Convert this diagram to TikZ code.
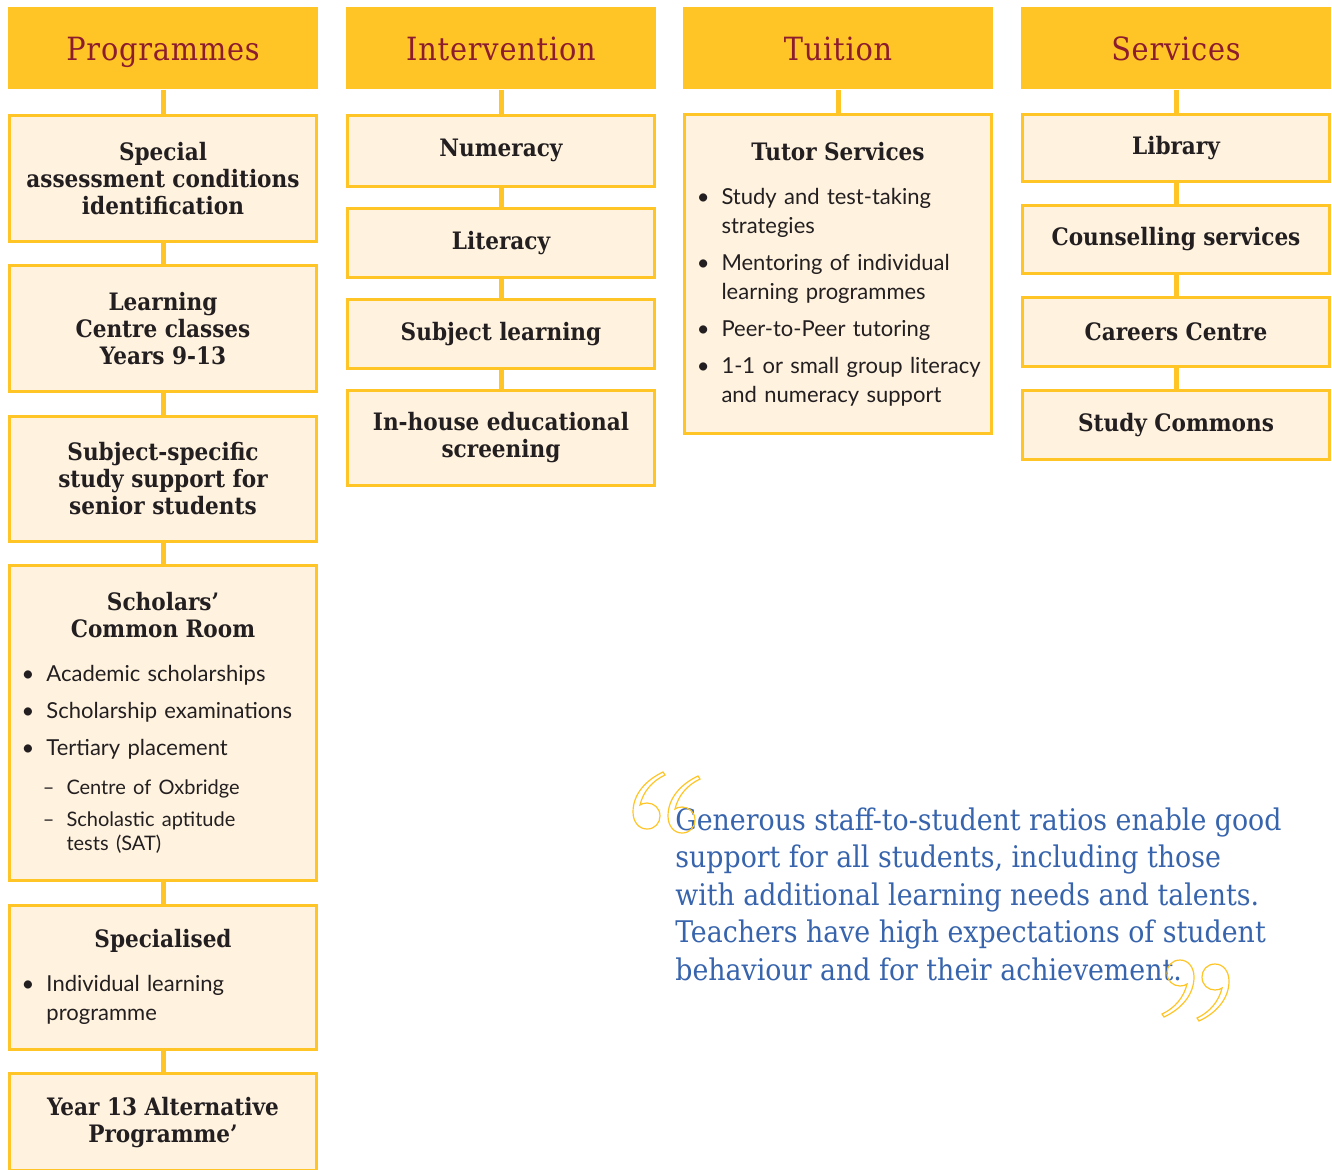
\documentclass[tikz,border=0pt]{standalone}
\usepackage{fontspec}
\setmainfont{Lato}
\newfontfamily\slab{DejaVu Serif Condensed}
\usepackage{enumitem}
\usetikzlibrary{positioning}
\definecolor{gold}{HTML}{FFC425}
\definecolor{cream}{HTML}{FFF3E0}
\definecolor{maroon}{HTML}{8C1D2F}
\definecolor{ink}{HTML}{231F20}
\definecolor{bodyink}{HTML}{353535}
\definecolor{quoteblue}{HTML}{3764AC}
\newcommand{\bodytext}{\fontsize{11}{14.5}\selectfont\color{bodyink}}
\newcommand{\cardtitle}[1]{{\centering\slab\bfseries\fontsize{12}{13.5}\selectfont\color{ink}#1\par}}
\newlist{pointlist}{itemize}{2}
\setlist[pointlist]{label=\textbullet, leftmargin=11.75pt, labelsep=6pt, itemsep=4pt, parsep=0pt, topsep=0pt, partopsep=0pt}
\newlist{dashlist}{itemize}{2}
\setlist[dashlist]{label=–, leftmargin=21.75pt, labelsep=6pt, itemsep=4pt, parsep=0pt, topsep=0pt, partopsep=0pt, before=\fontsize{10}{12}\selectfont}

\begin{document}
\begin{tikzpicture}[x=0.5pt, y=-0.5pt,
  head/.style={rectangle, fill=gold, anchor=north, minimum width=155pt, minimum height=41pt, inner sep=0pt, text height=14pt, text depth=2pt, text=maroon, font=\slab\fontsize{16}{18}\selectfont\addfontfeature{LetterSpace=2.5}},
  card/.style={rectangle, draw=gold, line width=1.5pt, fill=cream, minimum width=153.5pt, inner xsep=8.5pt, inner ysep=0pt, text=ink, align=center, font=\slab\bfseries\fontsize{12}{13.5}\selectfont},
  listcard/.style={card, inner xsep=6.75pt, text width=140pt, align=left, font=\bodytext},
  link/.style={gold, line width=2.5pt},
  quote/.style={inner sep=0pt, anchor=north west, align=left, text=quoteblue, font=\slab\fontsize{14.9}{18.75}\selectfont},
  quotemark/.style={draw=gold, line width=0.6pt, fill=none}
]
  \useasboundingbox (0,0) rectangle (1332,1169);
  \clip (0,0) rectangle (1332,1169);

  % Column heads
  \node[head] (hProg) at (163,7) {Programmes};
  \node[head] (hInt) at (501,7) {Intervention};
  \node[head] (hTut) at (838,7) {Tuition};
  \node[head] (hServ) at (1176,7) {Services};

  % Programmes
  \node[card, minimum height=63pt, below=12pt of hProg] (p1) {Special\\assessment conditions\\identification};
  \node[card, minimum height=63pt, below=10.75pt of p1] (p2) {Learning\\Centre classes\\Years 9-13};
  \node[card, minimum height=62.5pt, below=10.75pt of p2] (p3) {Subject-specific\\study support for\\senior students};
  \node[listcard, minimum height=157.5pt, below=10.75pt of p3] (p4) {%
    \cardtitle{Scholars’\\Common Room}\vspace{7.5pt}
    \begin{pointlist}
      \item Academic scholarships
      \item Scholarship examinations
      \item Tertiary placement
    \end{pointlist}\vspace{7.5pt}
    \begin{dashlist}
      \item Centre of Oxbridge
      \item Scholastic aptitude\newline tests (SAT)
    \end{dashlist}};
  \node[listcard, minimum height=72pt, below=10.75pt of p4] (p5) {%
    \cardtitle{Specialised}\vspace{7.5pt}
    \begin{pointlist}
      \item Individual learning\newline programme
    \end{pointlist}};
  \node[card, minimum height=48.5pt, below=10.75pt of p5] (p6) {Year 13 Alternative\\Programme’};

  % Intervention
  \node[card, minimum height=35.5pt, below=12pt of hInt] (i1) {Numeracy};
  \node[card, minimum height=34.5pt, below=9.5pt of i1] (i2) {Literacy};
  \node[card, minimum height=34.5pt, below=9.5pt of i2] (i3) {Subject learning};
  \node[card, minimum height=47.5pt, below=9.5pt of i3] (i4) {In-house educational\\screening};

  % Tuition
  \node[listcard, minimum height=159.5pt, below=11.5pt of hTut] (t1) {%
    \cardtitle{Tutor Services}\vspace{7.5pt}
    \begin{pointlist}
      \item Study and test-taking\newline strategies
      \item Mentoring of individual\newline learning programmes
      \item Peer-to-Peer tutoring
      \item \makebox[\linewidth][l]{1-1 or small group literacy}\newline and numeracy support
    \end{pointlist}};

  % Services
  \node[card, minimum height=33.5pt, below=11.5pt of hServ] (s1) {Library};
  \node[card, minimum height=34pt, below=10.5pt of s1] (s2) {Counselling services};
  \node[card, minimum height=34.5pt, below=10.5pt of s2] (s3) {Careers Centre};
  \node[card, minimum height=34.5pt, below=10.5pt of s3] (s4) {Study Commons};

  % Connectors
  \foreach \a/\b in {hProg/p1, p1/p2, p2/p3, p3/p4, p4/p5, p5/p6,
                     hInt/i1, i1/i2, i2/i3, i3/i4,
                     hTut/t1,
                     hServ/s1, s1/s2, s2/s3, s3/s4}
    \draw[link] (\a.south) -- (\b.north);

  % Quote
  \node[quote] (qt) at (675,807) {Generous staff-to-student ratios enable good\\
    support for all students, including those\\
    with additional learning needs and talents.\\
    Teachers have high expectations of student\\
    behaviour and for their achievement.};

  % Quote marks
  \foreach \qx/\qy/\qr in {632/772/0, 667/776/0, 1195/1017/180, 1230/1021/180} {
    \begin{scope}[shift={(\qx,\qy)}, rotate=\qr]
      \draw[quotemark] (31,0) .. controls (14,8) and (1,22) .. (1,40)
        .. controls (1,50) and (7,57) .. (15,57)
        .. controls (23,57) and (28,51) .. (28,44)
        .. controls (28,36) and (22,31) .. (15,31)
        .. controls (12,31) and (9,32) .. (8,33)
        .. controls (11,20) and (20,9) .. (33,3) -- cycle;
    \end{scope}
  }
\end{tikzpicture}
\end{document}
